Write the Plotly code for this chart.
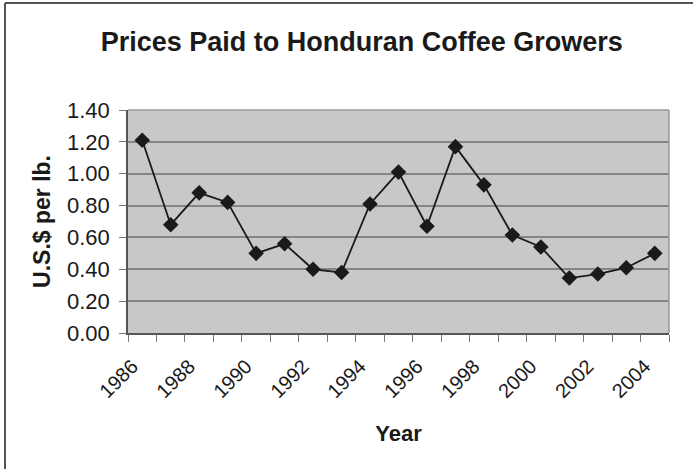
import plotly.graph_objects as go

years = list(range(1986, 2005))
prices = [1.21, 0.68, 0.88, 0.82, 0.50, 0.56, 0.40, 0.38, 0.81, 1.01,
          0.67, 1.17, 0.93, 0.615, 0.54, 0.345, 0.37, 0.41, 0.50]
label_years = list(range(1986, 2005, 2))
y_ticks = [0.0, 0.2, 0.4, 0.6, 0.8, 1.0, 1.2, 1.4]

W, H = 693, 469
ml, mr, mt, mb = 128, 24, 110, 136
pw, ph = W - ml - mr, H - mt - mb

def px_to_paper_x(px):
    return (px - ml) / pw

def py_to_paper_y(py):
    return (H - mb - py) / ph

fig = go.Figure()
fig.add_trace(go.Scatter(
    x=years, y=prices, mode="lines+markers",
    line=dict(color="#1a1a1a", width=1.8),
    marker=dict(symbol="diamond", size=12, color="#1a1a1a"),
    showlegend=False,
))

fig.update_layout(
    width=W, height=H,
    margin=dict(l=ml, r=mr, t=mt, b=mb),
    paper_bgcolor="white",
    plot_bgcolor="#c8c8c8",
    font=dict(family="Liberation Sans, Arial, sans-serif", color="#1a1a1a"),
    title=dict(text="<b>Prices Paid to Honduran Coffee Growers</b>",
               x=0.522, xanchor="center", y=0.912, yanchor="middle",
               font=dict(size=27, color="#1a1a1a")),
    xaxis=dict(
        range=[1985.5, 2004.5],
        tickmode="array", tickvals=label_years,
        ticktext=[str(y) for y in label_years],
        tickangle=-45, ticks="", ticklen=0,
        tickfont=dict(size=20),
        ticklabelstandoff=12, ticklabelshift=-10,
        showgrid=False, zeroline=False,
        showline=True, linecolor="#555555", linewidth=1.5,
        minor=dict(tickvals=[y - 0.5 for y in years] + [years[-1] + 0.5],
                   ticks="outside", ticklen=7, tickcolor="#777777", showgrid=False),
        title=dict(text="<b>Year</b>", font=dict(size=22), standoff=24),
    ),
    yaxis=dict(
        range=[0, 1.4],
        tickmode="array", tickvals=y_ticks,
        ticktext=[f"{v:.2f}" for v in y_ticks],
        tickfont=dict(size=22),
        ticks="outside", ticklen=7, tickcolor="#777777",
        ticklabelstandoff=5,
        showgrid=True, gridcolor="#858585", gridwidth=1.5,
        zeroline=False,
        showline=True, linecolor="#555555", linewidth=1.5,
        title=dict(text="<b>U.S.$ per lb.</b>", font=dict(size=23), standoff=10),
    ),
    shapes=[
        dict(type="line", xref="paper", yref="paper",
             x0=1, x1=1, y0=0, y1=1, line=dict(color="#999999", width=1.5)),
        dict(type="line", xref="paper", yref="paper",
             x0=0, x1=1, y0=1, y1=1, line=dict(color="#999999", width=1.5)),
        dict(type="line", xref="paper", yref="paper",
             x0=px_to_paper_x(5), x1=px_to_paper_x(5),
             y0=py_to_paper_y(3), y1=py_to_paper_y(H + 5),
             line=dict(color="#555555", width=2)),
        dict(type="line", xref="paper", yref="paper",
             x0=px_to_paper_x(5), x1=px_to_paper_x(W + 5),
             y0=py_to_paper_y(3), y1=py_to_paper_y(3),
             line=dict(color="#555555", width=2)),
    ],
)

fig.write_html("out.html")
